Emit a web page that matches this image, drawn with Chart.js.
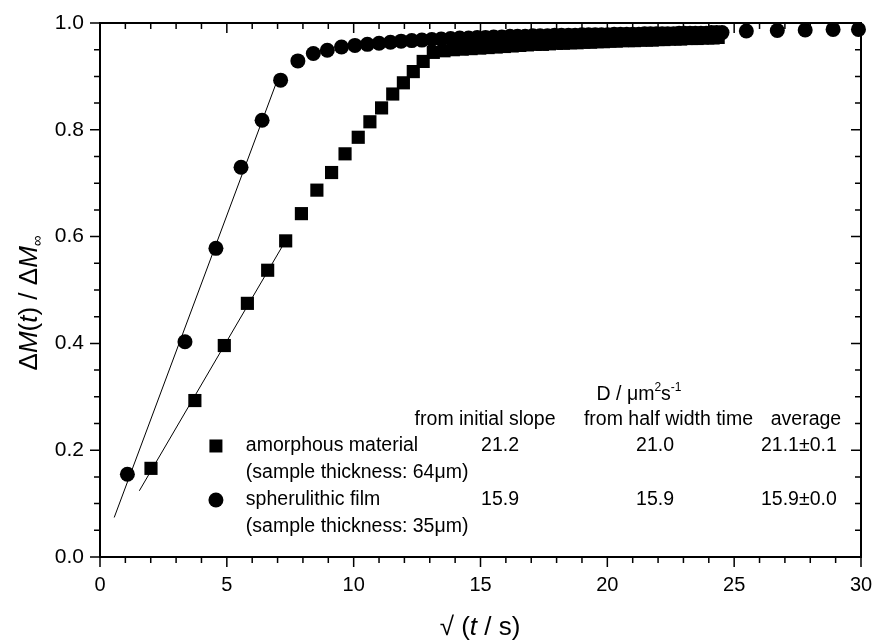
<!DOCTYPE html>
<html>
<head>
<meta charset="utf-8">
<script src="https://cdn.jsdelivr.net/npm/chart.js@4.4.1/dist/chart.umd.min.js"></script>
<style>
html, body { margin: 0; padding: 0; background: #fff; }
#wrap { width: 874px; height: 641px; }
</style>
</head>
<body>
<div id="wrap"><canvas id="chart" width="874" height="641"></canvas></div>
<script>
// spherulithic film (circles)
const filmX = [1.08, 3.35, 4.57, 5.56, 6.39, 7.12, 7.80, 8.41, 8.96, 9.52,
    10.05, 10.54, 11.00, 11.45, 11.87, 12.29, 12.69, 13.08, 13.45, 13.82,
    14.18, 14.53, 14.87, 15.20, 15.52, 15.84, 16.16, 16.46, 16.76, 17.06,
    17.35, 17.64, 17.92, 18.19, 18.47, 18.73, 19.00, 19.26, 19.52, 19.77,
    20.02, 20.27, 20.52, 20.76, 21.00, 21.24, 21.47, 21.70, 21.93, 22.16,
    22.38, 22.61, 22.83, 23.04, 23.26, 23.47, 23.69, 23.90, 24.10, 24.31,
    24.52, 25.48, 26.70, 27.80, 28.90, 29.90];
const filmY = [0.155, 0.403, 0.578, 0.730, 0.818, 0.893, 0.929, 0.943, 0.949, 0.955,
    0.958, 0.960, 0.962, 0.964, 0.966, 0.967, 0.968, 0.969, 0.970, 0.971,
    0.972, 0.972, 0.973, 0.973, 0.974, 0.974, 0.975, 0.975, 0.975, 0.976,
    0.976, 0.976, 0.977, 0.977, 0.977, 0.977, 0.978, 0.978, 0.978, 0.978,
    0.978, 0.979, 0.979, 0.979, 0.979, 0.979, 0.980, 0.980, 0.980, 0.980,
    0.980, 0.980, 0.981, 0.981, 0.981, 0.981, 0.981, 0.981, 0.982, 0.982,
    0.982, 0.985, 0.986, 0.987, 0.988, 0.988];

// amorphous material (squares)
const amorphX = [2.01, 3.74, 4.90, 5.81, 6.61, 7.32, 7.94, 8.55, 9.13, 9.66,
    10.18, 10.64, 11.10, 11.54, 11.96, 12.35, 12.74, 13.14,
    13.56, 13.93, 14.28, 14.63, 14.97, 15.30, 15.62, 15.94, 16.25, 16.55,
    16.85, 17.15, 17.44, 17.72, 18.00, 18.28, 18.55, 18.81, 19.08, 19.34,
    19.60, 19.85, 20.10, 20.35, 20.59, 20.83, 21.07, 21.31, 21.54, 21.77,
    22.00, 22.23, 22.45, 22.67, 22.89, 23.11, 23.32, 23.54, 23.75, 23.96,
    24.17, 24.37];
const amorphY = [0.166, 0.293, 0.396, 0.475, 0.537, 0.592, 0.643, 0.687, 0.720, 0.755,
    0.786, 0.815, 0.841, 0.867, 0.888, 0.909, 0.928, 0.945,
    0.948, 0.950, 0.951, 0.952, 0.953, 0.954, 0.955, 0.956, 0.957, 0.958,
    0.959, 0.960, 0.960, 0.961, 0.962, 0.962, 0.963, 0.963, 0.964, 0.964,
    0.965, 0.965, 0.966, 0.966, 0.967, 0.967, 0.967, 0.968, 0.968, 0.968,
    0.969, 0.969, 0.970, 0.970, 0.970, 0.971, 0.971, 0.971, 0.972, 0.972,
    0.972, 0.973];

// initial slope fit lines
const filmFitX = [0.56, 6.95];
const filmFitY = [0.074, 0.888];
const amorphFitX = [1.55, 7.30];
const amorphFitY = [0.124, 0.591];

const xTicks = [0, 5, 10, 15, 20, 25, 30];
const yTicks = [0.0, 0.2, 0.4, 0.6, 0.8, 1.0];

// table inside the plot
const tableHeader = 'D / \u03bcm';
const columnHeads = ['from initial slope', 'from half width time', 'average'];
const sampleNames = ['amorphous material', 'spherulithic film'];
const sampleNotes = ['(sample thickness: 64\u03bcm)', '(sample thickness: 35\u03bcm)'];
const dInitial = ['21.2', '15.9'];
const dHalfWidth = ['21.0', '15.9'];
const dAverage = ['21.1\u00b10.1', '15.9\u00b10.0'];

const FONT = '"Liberation Sans", Arial, sans-serif';

function pts(xs, ys) {
    return xs.map((x, i) => ({x: x, y: ys[i]}));
}

function drawRuns(ctx, runs, cx, cy) {
    let total = 0;
    runs.forEach(r => { ctx.font = r[1]; total += ctx.measureText(r[0]).width; });
    let x = cx - total / 2;
    runs.forEach(r => {
        ctx.font = r[1];
        ctx.fillText(r[0], x, cy + (r[2] || 0));
        x += ctx.measureText(r[0]).width;
    });
}

const decor = {
    id: 'decor',
    beforeDatasetsDraw(chart) {
        const ctx = chart.ctx;
        const xs = chart.scales.x, ys = chart.scales.y;
        const {left, right, top, bottom} = chart.chartArea;
        ctx.save();
        ctx.strokeStyle = '#000';
        ctx.lineWidth = 2;
        ctx.strokeRect(left, top, right - left, bottom - top);
        ctx.lineWidth = 1.5;
        ctx.beginPath();
        for (let v = 0; v <= 30; v++) {
            const px = xs.getPixelForValue(v);
            const len = v % 5 === 0 ? 10 : 6;
            ctx.moveTo(px, bottom); ctx.lineTo(px, bottom + len);
            ctx.moveTo(px, top); ctx.lineTo(px, top + len);
        }
        for (let i = 0; i <= 20; i++) {
            const py = ys.getPixelForValue(i * 0.05);
            const len = i % 4 === 0 ? 10 : 6;
            ctx.moveTo(left - len, py); ctx.lineTo(left, py);
            ctx.moveTo(right - len, py); ctx.lineTo(right, py);
        }
        ctx.stroke();
        ctx.restore();
    },
    afterDraw(chart) {
        const ctx = chart.ctx;
        const xs = chart.scales.x, ys = chart.scales.y;
        const X = v => xs.getPixelForValue(v);
        const Y = v => ys.getPixelForValue(v);
        ctx.save();
        ctx.fillStyle = '#000';
        ctx.textBaseline = 'middle';
        ctx.textAlign = 'left';

        // axis titles
        const big = '26px ' + FONT, bigIt = 'italic 26px ' + FONT;
        drawRuns(ctx, [['\u221a (', big], ['t', bigIt], [' / s)', big]], 480, 628);
        ctx.save();
        ctx.translate(30, 303);
        ctx.rotate(-Math.PI / 2);
        drawRuns(ctx, [['\u0394', big], ['M', bigIt], ['(', big], ['t', bigIt],
            [') / \u0394', big], ['M', bigIt], ['\u221e', '15px ' + FONT, 8]], 0, 0);
        ctx.restore();

        // table
        const f = '19.5px ' + FONT, sup = '12px ' + FONT;
        drawRuns(ctx, [[tableHeader, f], ['2', sup, -7], ['s', f], ['-1', sup, -7]], X(21.25), Y(0.3034));
        ctx.font = f;
        ctx.textAlign = 'center';
        const headX = [15.18, 22.41, 27.83];
        columnHeads.forEach((t, i) => ctx.fillText(t, X(headX[i]), Y(0.2566)));
        const nameRowY = [0.2079, 0.1067];
        const noteRowY = [0.1573, 0.0562];
        const colX = [15.77, 21.88, 27.55];
        for (let r = 0; r < 2; r++) {
            ctx.textAlign = 'center';
            ctx.fillText(dInitial[r], X(colX[0]), Y(nameRowY[r]));
            ctx.fillText(dHalfWidth[r], X(colX[1]), Y(nameRowY[r]));
            ctx.fillText(dAverage[r], X(colX[2]), Y(nameRowY[r]));
            ctx.textAlign = 'left';
            ctx.fillText(sampleNames[r], X(5.75), Y(nameRowY[r]));
            ctx.fillText(sampleNotes[r], X(5.75), Y(noteRowY[r]));
        }
        // legend symbols
        const mx = X(4.57);
        ctx.fillRect(mx - 6.5, Y(nameRowY[0]) - 6.5, 13, 13);
        ctx.beginPath();
        ctx.arc(mx, Y(nameRowY[1]), 7.5, 0, Math.PI * 2);
        ctx.fill();
        ctx.restore();
    }
};

const ctx = document.getElementById('chart').getContext('2d');
const myChart = new Chart(ctx, {
    type: 'scatter',
    data: {
        datasets: [
            {data: pts(filmFitX, filmFitY), showLine: true, pointRadius: 0, borderColor: '#000', borderWidth: 1},
            {data: pts(amorphFitX, amorphFitY), showLine: true, pointRadius: 0, borderColor: '#000', borderWidth: 1},
            {data: pts(amorphX, amorphY), pointStyle: 'rect', pointRadius: 9.3, backgroundColor: '#000', borderWidth: 0, clip: false},
            {data: pts(filmX, filmY), pointStyle: 'circle', pointRadius: 7.5, backgroundColor: '#000', borderWidth: 0, clip: false},
        ],
    },
    options: {
        responsive: false,
        animation: false,
        devicePixelRatio: 1,
        layout: {padding: {left: 0, right: 13, top: 23, bottom: 0}},
        plugins: {legend: {display: false}, tooltip: {enabled: false}},
        scales: {
            x: {
                type: 'linear', min: 0, max: 30,
                grid: {display: false, drawTicks: false},
                border: {display: false},
                afterBuildTicks: s => { s.ticks = xTicks.map(v => ({value: v})); },
                afterFit: s => { s.height = 84; s.paddingLeft = 0; s.paddingRight = 0; },
                ticks: {color: '#000', padding: 16, font: {family: FONT, size: 20}, callback: v => String(v)},
            },
            y: {
                type: 'linear', min: 0, max: 1,
                grid: {display: false, drawTicks: false},
                border: {display: false},
                afterBuildTicks: s => { s.ticks = yTicks.map(v => ({value: v})); },
                afterFit: s => { s.width = 100; s.paddingTop = 0; s.paddingBottom = 0; },
                ticks: {color: '#000', padding: 16, font: {family: FONT, size: 21}, callback: v => v.toFixed(1)},
            },
        },
    },
    plugins: [decor],
});
</script>
</body>
</html>
